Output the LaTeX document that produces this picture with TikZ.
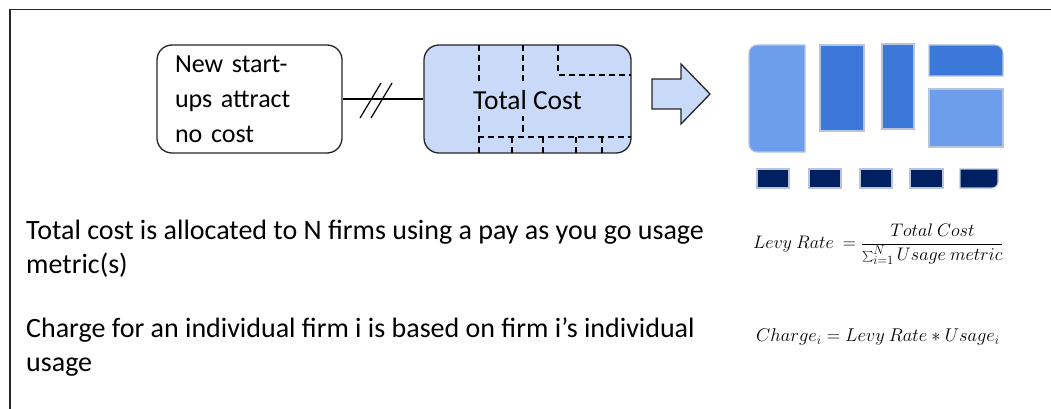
\documentclass[tikz,border=0pt]{standalone}
\usepackage{fontspec}
\setmainfont{Carlito}
\usetikzlibrary{calc}

\definecolor{boxblue}{RGB}{201,218,248}
\definecolor{lightblk}{RGB}{109,158,235}
\definecolor{darkblk}{RGB}{60,120,216}
\definecolor{navyblk}{RGB}{0,32,96}
\definecolor{blkedge}{RGB}{184,196,220}
\definecolor{framegray}{RGB}{40,40,40}

\tikzset{
  costbox/.style={draw=black!85, line width=1.3pt, rounded corners=15pt,
    minimum width=185pt, minimum height=108pt, inner sep=0pt},
  gridline/.style={draw=black, line width=1.6pt, dash pattern=on 6pt off 4pt},
  blk/.style={draw=blkedge, line width=1.1pt},
  bodytext/.style={anchor=west, align=left, inner sep=0pt,
    font=\fontsize{28}{34}\selectfont},
  eqtext/.style={anchor=west, inner sep=0pt, font=\fontsize{17.28}{21}\selectfont},
}

\begin{document}
\begin{tikzpicture}[x=1pt, y=-1pt]
\useasboundingbox (0,0) rectangle (1051,409);

% frame lines along the top and left edges
\draw[framegray, line width=1.4pt] (10,409) -- (10,9.5) -- (1051,9.5);

% box for new start-ups
\node[costbox, fill=white, text width=149pt, inner xsep=18pt, align=left,
      font=\fontsize{26}{35}\selectfont] (ns) at (249.5,99)
      {New start-\\ups attract\\no cost};

% total cost box with its dashed partitions
\node[costbox, fill=boxblue, minimum width=207pt] (tc) at (527.5,99) {};
\draw[gridline] (479,45.5) -- (479,137) -- (631,137);
\draw[gridline] (523,45.5) -- (523,137);
\draw[gridline] (558,45.5) -- (558,75) -- (631,75);
\foreach \x in {512,543,576,602}
  \draw[gridline] (\x,137) -- (\x,152.5);
\draw[gridline] (479,137) -- (479,152.5);
\node[fill=boxblue, inner xsep=1pt, inner ysep=0pt, minimum height=33pt,
      font=\fontsize{27.5}{30}\selectfont] (tclabel) at (527.5,100) {Total Cost};

% connector broken by a double slash
\draw[black, line width=1.3pt] (ns.east) -- (tc.west);
\coordinate (brk) at ($(ns.east)!0.5!(tc.west)$);
\draw[black, line width=1.2pt] ($(brk)+(-23,19)$) -- ($(brk)+(-2,-16)$);
\draw[black, line width=1.2pt] ($(brk)+(-12,19)$) -- ($(brk)+(9,-16)$);

% block arrow
\draw[draw=black!85, fill=boxblue, line width=1.3pt, line join=miter]
  (652,79) -- (681,79) -- (681,64) -- (710,94) -- (681,124) -- (681,109)
  -- (652,109) -- cycle;

% allocated blocks
\draw[blk, fill=lightblk] (805,45) -- (757,45)
  arc[start angle=270, end angle=180, radius=8] -- (749,144)
  arc[start angle=180, end angle=90, radius=8] -- (805,152) -- cycle;
\draw[blk, fill=darkblk] (820,45) rectangle (864,131);
\draw[blk, fill=darkblk] (882,44) rectangle (914,129);
\draw[blk, fill=darkblk] (929,45) -- (995,45)
  arc[start angle=270, end angle=360, radius=8] -- (1003,76) -- (929,76) -- cycle;
\draw[blk, fill=lightblk] (929,89) rectangle (1003,147);

% firm blocks
\foreach \a/\b in {757/789, 809/841, 860/892, 910/943}
  \draw[blk, fill=navyblk] (\a,169) rectangle (\b,188);
\draw[blk, fill=navyblk] (960,169) -- (998,169) -- (998,182)
  arc[start angle=0, end angle=90, radius=6] -- (960,188) -- cycle;

% explanatory text
\node[bodytext] (t1) at (26,249)
  {Total cost is allocated to N firms using a pay as you go usage\\metric(s)};
\node[bodytext] (t2) at (26,347)
  {Charge for an individual firm i is based on firm i’s individual\\usage};

% formulas
\node[eqtext] (levy) at (753,244)
  {\scalebox{1.05}{$\displaystyle Levy\ Rate\ = \frac{Total\ Cost}{\sum_{i=1}^{N}Usage\ metric}$}};
\node[eqtext] (charge) at (756,337)
  {\scalebox{1.07}{$Charge_i = Levy\ Rate * Usage_i$}};
\end{tikzpicture}
\end{document}
